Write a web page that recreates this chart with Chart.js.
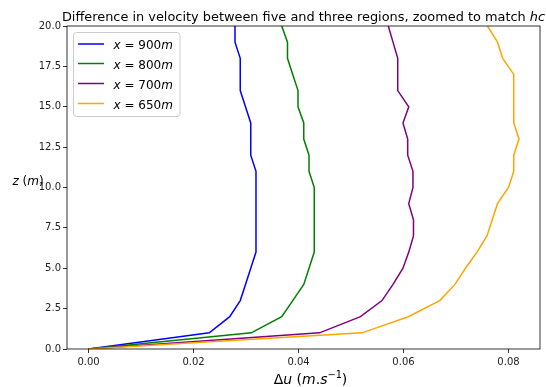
<!DOCTYPE html>
<html>
<head>
<meta charset="utf-8">
<script src="https://cdn.jsdelivr.net/npm/chart.js@4/dist/chart.umd.min.js"></script>
<style>
  html, body { margin: 0; padding: 0; background: #fff; }
  #wrap { width: 546px; height: 387px; }
</style>
</head>
<body>
<div id="wrap"><canvas id="c" width="546" height="387"></canvas></div>
<script>
// Heights above ground (m)
const zLevels = [0, 1, 2, 3, 4, 5, 6, 7, 8, 9, 10, 11, 12, 13, 14, 15, 16, 17, 18, 19, 20];

// Velocity difference profiles (m/s) at each downstream position
const du900 = [0, 0.0230, 0.0269, 0.0289, 0.0299, 0.0309, 0.0319, 0.0319, 0.0319, 0.0319, 0.0319,
               0.0319, 0.0309, 0.0309, 0.0309, 0.0299, 0.0289, 0.0289, 0.0289, 0.0279, 0.0279];
const du800 = [0, 0.0310, 0.0368, 0.0389, 0.0410, 0.0420, 0.0430, 0.0430, 0.0430, 0.0430, 0.0430,
               0.0420, 0.0420, 0.0410, 0.0410, 0.0399, 0.0399, 0.0389, 0.0379, 0.0379, 0.0368];
const du700 = [0, 0.0440, 0.0518, 0.0559, 0.0580, 0.0599, 0.0610, 0.0619, 0.0619, 0.0610, 0.0618,
               0.0618, 0.0608, 0.0608, 0.0599, 0.0610, 0.0589, 0.0589, 0.0589, 0.0580, 0.0571];
const du650 = [0, 0.0521, 0.0609, 0.0669, 0.0698, 0.0718, 0.0740, 0.0759, 0.0769, 0.0779, 0.0800,
               0.0810, 0.0810, 0.0820, 0.0810, 0.0810, 0.0810, 0.0810, 0.0789, 0.0779, 0.0760];

const positions = [900, 800, 700, 650];
const profiles = [du900, du800, du700, du650];
const colors = ['#0000ff', '#008000', '#800080', '#ffa500'];

const xTicks = [0.00, 0.02, 0.04, 0.06, 0.08];
const yTicks = [0, 2.5, 5, 7.5, 10, 12.5, 15, 17.5, 20];

const FONT = '"DejaVu Sans", sans-serif';

const datasets = profiles.map((vals, i) => ({
  label: 'x = ' + positions[i] + 'm',
  data: vals.map((v, k) => ({ x: v, y: zLevels[k] })),
  borderColor: colors[i],
  backgroundColor: colors[i],
  borderWidth: 1.5,
  pointRadius: 0,
  showLine: true,
  tension: 0,
  order: profiles.length - i
}));

// Mixed-style text runs (upright / oblique / superscript)
function richWidth(ctx, parts, size) {
  let w = 0;
  for (const p of parts) {
    const s = size * (p.scale || 1);
    ctx.font = (p.italic ? 'oblique ' : '') + s + 'px ' + FONT;
    w += ctx.measureText(p.t).width;
  }
  return w;
}
function drawRich(ctx, parts, x, y, size, align) {
  const w = richWidth(ctx, parts, size);
  let cx = align === 'center' ? x - w / 2 : x;
  ctx.textBaseline = 'alphabetic';
  ctx.textAlign = 'left';
  for (const p of parts) {
    const s = size * (p.scale || 1);
    ctx.font = (p.italic ? 'oblique ' : '') + s + 'px ' + FONT;
    ctx.fillText(p.t, cx, y - (p.rise || 0) * size);
    cx += ctx.measureText(p.t).width;
  }
  return w;
}

const decorations = {
  id: 'decorations',
  afterDraw(chart) {
    const ctx = chart.ctx;
    const a = chart.chartArea;
    ctx.save();

    // axes frame
    ctx.strokeStyle = '#000';
    ctx.lineWidth = 0.8;
    ctx.strokeRect(a.left, a.top, a.right - a.left, a.bottom - a.top);

    ctx.fillStyle = '#000';
    // title
    const cxMid = (a.left + a.right) / 2;
    drawRich(ctx, [
      { t: 'Difference in velocity between five and three regions, zoomed to match ' },
      { t: 'hc', italic: true }
    ], cxMid, 21, 12.9, 'center');

    // x axis label
    drawRich(ctx, [
      { t: 'Δ' }, { t: 'u', italic: true }, { t: ' (' }, { t: 'm', italic: true },
      { t: '.' }, { t: 's', italic: true }, { t: '−1', scale: 0.7, rise: 0.42 }, { t: ')' }
    ], cxMid + 7, 384, 14, 'center');

    // y axis label
    drawRich(ctx, [
      { t: 'z', italic: true }, { t: ' (' }, { t: 'm', italic: true }, { t: ')' }
    ], 12.5, 185, 12, 'left');

    // legend
    const lx = 73.5, ly = 32.5, lw = 106.5, lh = 84, r = 3;
    ctx.beginPath();
    ctx.moveTo(lx + r, ly);
    ctx.arcTo(lx + lw, ly, lx + lw, ly + lh, r);
    ctx.arcTo(lx + lw, ly + lh, lx, ly + lh, r);
    ctx.arcTo(lx, ly + lh, lx, ly, r);
    ctx.arcTo(lx, ly, lx + lw, ly, r);
    ctx.closePath();
    ctx.fillStyle = 'rgba(255,255,255,0.8)';
    ctx.fill();
    ctx.strokeStyle = '#cccccc';
    ctx.lineWidth = 1;
    ctx.stroke();

    const rowY = [44, 63.5, 83.5, 103.5];
    chart.data.datasets.forEach((ds, i) => {
      ctx.strokeStyle = ds.borderColor;
      ctx.lineWidth = 1.5;
      ctx.beginPath();
      ctx.moveTo(78, rowY[i]);
      ctx.lineTo(104, rowY[i]);
      ctx.stroke();
      ctx.fillStyle = '#000';
      drawRich(ctx, [
        { t: 'x', italic: true }, { t: ' = ' + positions[i] }, { t: 'm', italic: true }
      ], 113.5, rowY[i] + 5, 12, 'left');
    });

    ctx.restore();
  }
};

new Chart(document.getElementById('c'), {
  type: 'scatter',
  data: { datasets },
  options: {
    responsive: false,
    animation: false,
    devicePixelRatio: 1,
    layout: { padding: { top: 26, right: 6, left: 0, bottom: 0 } },
    plugins: { legend: { display: false }, tooltip: { enabled: false }, title: { display: false } },
    scales: {
      x: {
        type: 'linear',
        min: -0.0041,
        max: 0.0860,
        afterFit(s) { s.height = 38; },
        afterBuildTicks(s) { s.ticks = xTicks.map(v => ({ value: v })); },
        grid: { display: true, drawOnChartArea: false, drawTicks: true, tickLength: 4, color: '#000', lineWidth: 0.8 },
        border: { display: false },
        ticks: {
          padding: 3,
          maxRotation: 0,
          autoSkip: false,
          color: '#222',
          font: { family: FONT, size: 10 },
          callback: v => v.toFixed(2)
        }
      },
      y: {
        type: 'linear',
        min: 0,
        max: 20,
        afterFit(s) { s.width = 67; },
        afterBuildTicks(s) { s.ticks = yTicks.map(v => ({ value: v })); },
        grid: { display: true, drawOnChartArea: false, drawTicks: true, tickLength: 4, color: '#000', lineWidth: 0.8 },
        border: { display: false },
        ticks: {
          padding: 2,
          autoSkip: false,
          color: '#222',
          font: { family: FONT, size: 10 },
          callback: v => v.toFixed(1)
        }
      }
    }
  },
  plugins: [decorations]
});
</script>
</body>
</html>
